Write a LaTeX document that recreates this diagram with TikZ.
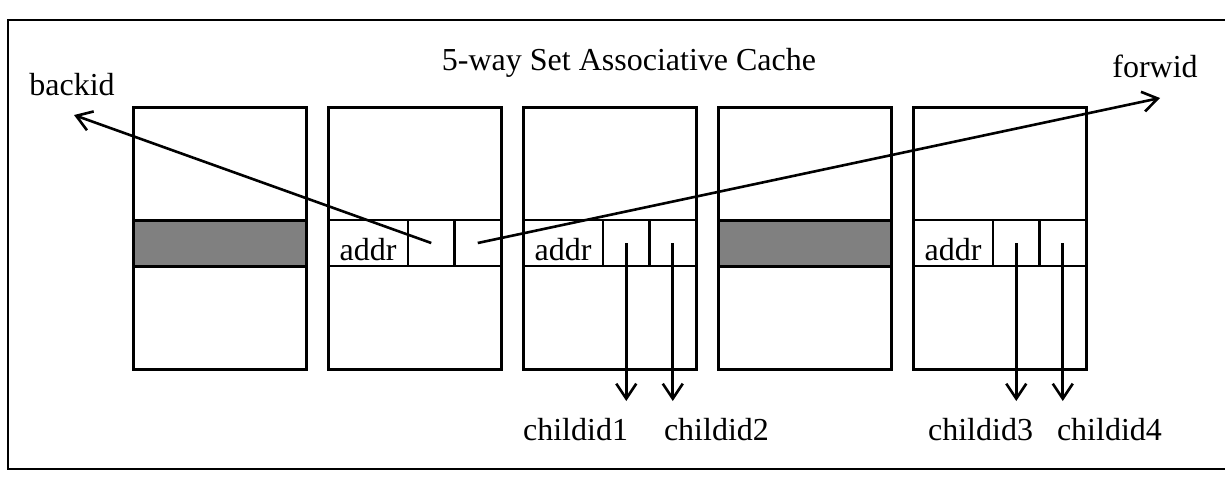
\documentclass[tikz,border=0pt]{standalone}
\usepackage{fontspec}
\setmainfont{Liberation Serif}
\usetikzlibrary{arrows.meta}
\begin{document}
\begin{tikzpicture}[x=1pt,y=-1pt,
  every node/.style={outer sep=0pt},
  lbl/.style={font=\fontsize{32}{38}\selectfont, inner sep=0pt, anchor=base},
  way/.style={draw, line width=3pt, minimum width=173pt, minimum height=262pt,
              inner sep=0pt, anchor=north west},
  busy/.style={draw, line width=3pt, fill=black!50, minimum width=173pt,
               minimum height=46pt, inner sep=0pt, anchor=north west},
  cellbox/.style={draw, line width=2.7pt, minimum height=46pt, inner sep=0pt,
                  anchor=north west},
  tagcell/.style={cellbox, minimum width=80pt},
  ptrcell/.style={cellbox, minimum width=46.5pt},
  ptr/.style={line width=2.6pt, -{Straight Barb[length=15pt,width=20pt]}},
  frame/.style={line width=2pt}
]
\useasboundingbox (0,0) rectangle (1225,477);

% outer frame (open on the right)
\draw[frame] (1225,20) -- (8,20) -- (8,469) -- (1225,469);

% title and side labels
\node[lbl] (title) at (629,70) {5-way Set Associative Cache};
\node[lbl] (back) at (72,95) {backid};
\node[lbl] (forw) at (1155,77) {forwid};

% the five ways of the set
\foreach \i/\x in {1/133,2/328,3/523,4/718,5/913}
  \node[way] (w\i) at (\x,107) {};

% occupied (shaded) lines in ways 1 and 4
\node[busy] (s1) at (133,220) {};
\node[busy] (s4) at (718,220) {};

% entries with address and pointer fields
\foreach \k/\x in {2/328,3/523,5/913}{
  \node[tagcell] (a\k) at (\x,220) {};
  \node[ptrcell] (p\k a) at (a\k.north east) {};
  \node[ptrcell] (p\k b) at (p\k a.north east) {};
  \node[lbl] (t\k) at ([yshift=6pt]a\k.south) {addr};
}

% arrow ends
\coordinate (bk) at (74,115);
\coordinate (fw) at (1160,98);
\coordinate (low) at (0,401);

% child labels
\node[lbl, anchor=base east] (c1) at (628,440) {childid1};
\node[lbl, anchor=base west] (c2) at (664,440) {childid2};
\node[lbl, anchor=base east] (c3) at (1033,440) {childid3};
\node[lbl, anchor=base west] (c4) at (1057,440) {childid4};

% pointers
\draw[ptr] (p2a.center) -- (bk);
\draw[ptr] (p2b.center) -- (fw);
\draw[ptr] (p3a.center) -- (p3a.center |- low);
\draw[ptr] (p3b.center) -- (p3b.center |- low);
\draw[ptr] (p5a.center) -- (p5a.center |- low);
\draw[ptr] (p5b.center) -- (p5b.center |- low);
\end{tikzpicture}
\end{document}
